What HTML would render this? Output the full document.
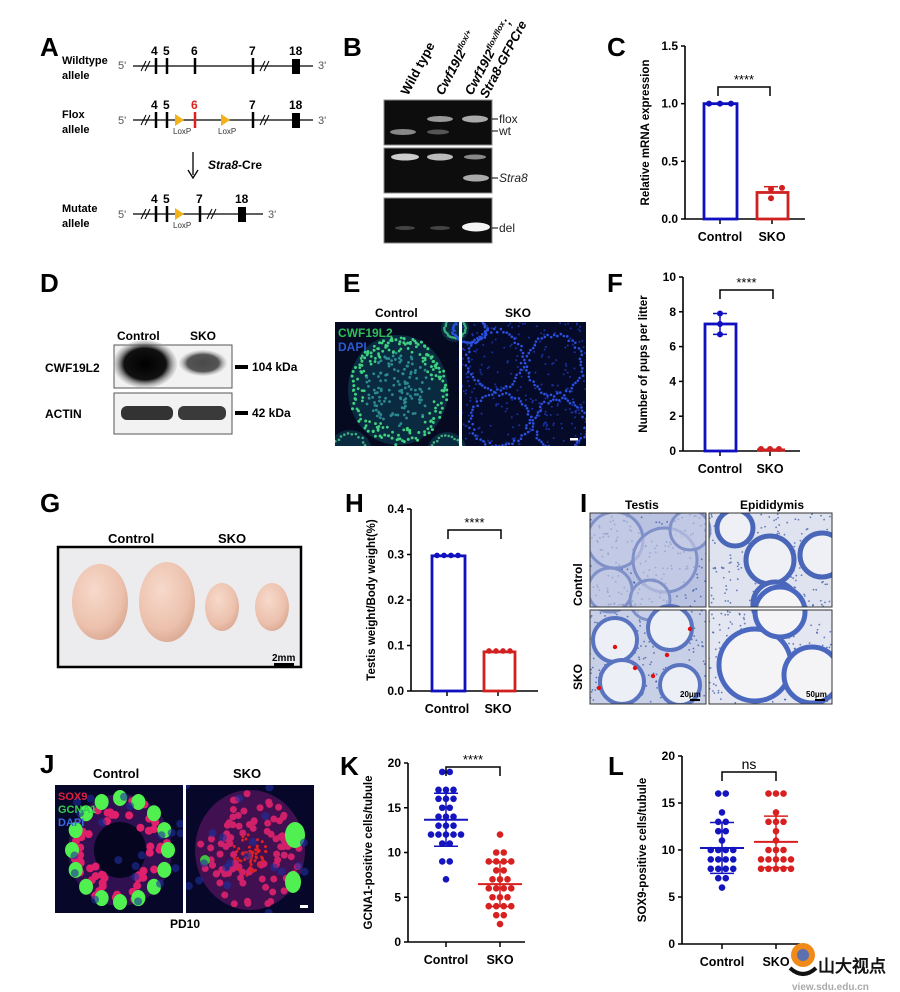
<!DOCTYPE html>
<html><head><meta charset="utf-8"><style>
body{margin:0;background:#fff}
svg{display:block}
text{font-family:"Liberation Sans",Arial,sans-serif}
.L{font-size:26px;font-weight:bold}
.b{font-weight:bold}
</style></head><body>
<svg id="s" width="900" height="992" viewBox="0 0 900 992" xmlns="http://www.w3.org/2000/svg">
<defs>
<radialGradient id="egg" cx="40%" cy="35%" r="70%"><stop offset="0" stop-color="#f7d9cb"/><stop offset="0.7" stop-color="#ecc1ad"/><stop offset="1" stop-color="#d9a891"/></radialGradient>
<radialGradient id="wb" cx="50%" cy="50%" r="55%"><stop offset="0" stop-color="#000"/><stop offset="0.6" stop-color="#111"/><stop offset="1" stop-color="#ddd" stop-opacity="0"/></radialGradient>
<clipPath id="cE"><rect x="335" y="322" width="124" height="124"/><rect x="462" y="322" width="124" height="124"/></clipPath>
<clipPath id="cI"><rect x="590" y="513" width="116" height="94"/><rect x="709" y="513" width="123" height="94"/><rect x="590" y="610" width="116" height="94"/><rect x="709" y="610" width="123" height="94"/></clipPath>
<clipPath id="cJ"><rect x="55" y="785" width="128" height="128"/><rect x="186" y="785" width="128" height="128"/></clipPath>
</defs>
<g font-size="11" fill="#000">
<!-- A -->
<text x="40" y="56" class="L">A</text>
<g class="b" font-size="11"><text x="62" y="64">Wildtype</text><text x="62" y="79">allele</text>
<text x="62" y="118">Flox</text><text x="62" y="133">allele</text>
<text x="62" y="212">Mutate</text><text x="62" y="227">allele</text></g>
<g fill="#555" font-size="11"><text x="118" y="69">5'</text><text x="318" y="69">3'</text><text x="118" y="124">5'</text><text x="318" y="124">3'</text><text x="118" y="218">5'</text><text x="268" y="218">3'</text></g>
<g stroke="#000" stroke-width="1.2">
<line x1="133" y1="66" x2="313" y2="66"/><line x1="133" y1="120" x2="313" y2="120"/><line x1="133" y1="214" x2="263" y2="214"/>
</g>
<g stroke="#000" stroke-width="2.5">
<line x1="156" y1="58" x2="156" y2="74"/><line x1="167" y1="58" x2="167" y2="74"/><line x1="195" y1="58" x2="195" y2="74"/><line x1="253" y1="58" x2="253" y2="74"/>
<line x1="156" y1="112" x2="156" y2="128"/><line x1="167" y1="112" x2="167" y2="128"/><line x1="253" y1="112" x2="253" y2="128"/>
<line x1="156" y1="206" x2="156" y2="222"/><line x1="167" y1="206" x2="167" y2="222"/><line x1="200" y1="206" x2="200" y2="222"/>
</g>
<line x1="195" y1="112" x2="195" y2="128" stroke="#e02020" stroke-width="2.5"/>
<g stroke="#000" stroke-width="1"><path d="M141 71l5-10M145 71l5-10M260 71l5-10M264 71l5-10M141 125l5-10M145 125l5-10M260 125l5-10M264 125l5-10M141 219l5-10M145 219l5-10M207 219l5-10M211 219l5-10"/></g>
<rect x="292" y="59" width="8" height="15"/><rect x="292" y="113" width="8" height="15"/><rect x="238" y="207" width="8" height="15"/>
<g class="b" font-size="12"><text x="151" y="55">4</text><text x="163" y="55">5</text><text x="191" y="55">6</text><text x="249" y="55">7</text><text x="289" y="55">18</text>
<text x="151" y="109">4</text><text x="163" y="109">5</text><text x="191" y="109" fill="#e02020">6</text><text x="249" y="109">7</text><text x="289" y="109">18</text>
<text x="151" y="203">4</text><text x="163" y="203">5</text><text x="196" y="203">7</text><text x="235" y="203">18</text></g>
<g fill="#f3b21a"><path d="M175 114l9 6-9 6z"/><path d="M221 114l9 6-9 6z"/><path d="M175 208l9 6-9 6z"/></g>
<g font-size="8" fill="#333"><text x="173" y="134">LoxP</text><text x="218" y="134">LoxP</text><text x="173" y="228">LoxP</text></g>
<line x1="193" y1="152" x2="193" y2="175" stroke="#000" stroke-width="1.3"/><path d="M188 170l5 8 5-8" fill="none" stroke="#000" stroke-width="1.3"/>
<text x="208" y="169" class="b" font-size="12"><tspan font-style="italic">Stra8</tspan>-Cre</text>
<!-- B -->
<text x="343" y="56" class="L">B</text>
<g font-family="Liberation Serif" font-weight="bold" font-size="13">
<text transform="translate(408,96) rotate(-62)">Wild type</text>
<text transform="translate(443,96) rotate(-62)" font-style="italic">Cwf19l2<tspan font-size="8" dy="-5">flox/+</tspan></text>
<text transform="translate(472,96) rotate(-62)" font-style="italic">Cwf19l2<tspan font-size="8" dy="-5">flox/flox</tspan><tspan dy="5">;</tspan></text>
<text transform="translate(487,99) rotate(-62)" font-style="italic">Stra8-GFPCre</text>
</g>
<rect x="384" y="100" width="108" height="45" fill="#0d0d0d" stroke="#888"/>
<rect x="384" y="148" width="108" height="45" fill="#0d0d0d" stroke="#888"/>
<rect x="384" y="198" width="108" height="45" fill="#0d0d0d" stroke="#888"/>
<g><ellipse cx="403" cy="132" rx="13" ry="3" fill="#888"/><ellipse cx="440" cy="119" rx="13" ry="3" fill="#999"/><ellipse cx="438" cy="132" rx="11" ry="2.5" fill="#555"/><ellipse cx="475" cy="119" rx="13" ry="3.5" fill="#aaa"/>
<ellipse cx="405" cy="157" rx="14" ry="3.5" fill="#ccc"/><ellipse cx="440" cy="157" rx="13" ry="3.5" fill="#bbb"/><ellipse cx="475" cy="157" rx="11" ry="2.5" fill="#888"/><ellipse cx="476" cy="178" rx="13" ry="3.5" fill="#aaa"/>
<ellipse cx="405" cy="228" rx="10" ry="2" fill="#444"/><ellipse cx="440" cy="228" rx="10" ry="2" fill="#444"/><ellipse cx="476" cy="227" rx="14" ry="4.5" fill="#f4f4f4"/></g>
<g stroke="#000"><line x1="492" y1="119" x2="498" y2="119"/><line x1="492" y1="131" x2="498" y2="131"/><line x1="492" y1="178" x2="498" y2="178"/><line x1="492" y1="228" x2="498" y2="228"/></g>
<g font-size="12" fill="#222"><text x="499" y="123">flox</text><text x="499" y="135">wt</text><text x="499" y="182" font-style="italic">Stra8</text><text x="499" y="232">del</text></g>
<!-- C -->
<text x="607" y="56" class="L">C</text>
<g id="C"></g>
<!-- D -->
<text x="40" y="292" class="L">D</text>
<g class="b" font-size="12"><text x="117" y="340">Control</text><text x="190" y="340">SKO</text><text x="45" y="372">CWF19L2</text><text x="45" y="418">ACTIN</text><text x="252" y="371">104 kDa</text><text x="252" y="417">42 kDa</text></g>
<rect x="114" y="345" width="118" height="43" fill="#f2f2f2" stroke="#555"/>
<rect x="114" y="393" width="118" height="41" fill="#f2f2f2" stroke="#555"/>
<ellipse cx="145" cy="364" rx="32" ry="24" fill="url(#wb)"/>
<ellipse cx="203" cy="363" rx="24" ry="13" fill="url(#wb)" opacity="0.7"/>
<rect x="121" y="406" width="52" height="14" rx="6" fill="#333"/><rect x="178" y="406" width="48" height="14" rx="6" fill="#3a3a3a"/>
<rect x="235" y="365" width="13" height="4"/><rect x="235" y="411" width="13" height="4"/>
<!-- E -->
<text x="343" y="292" class="L">E</text>
<g class="b" font-size="12"><text x="375" y="317">Control</text><text x="505" y="317">SKO</text></g>
<rect x="335" y="322" width="124" height="124" fill="#050a20"/>
<rect x="462" y="322" width="124" height="124" fill="#050a28"/>
<g id="E" clip-path="url(#cE)"></g>
<g font-size="12" class="b"><text x="338" y="337" fill="#2fbf5a">CWF19L2</text><text x="338" y="351" fill="#2a5ad0">DAPI</text></g>
<rect x="570" y="438" width="8" height="2.5" fill="#fff"/>
<!-- F -->
<text x="607" y="292" class="L">F</text>
<g id="F"></g>
<!-- G -->
<text x="40" y="512" class="L">G</text>
<g class="b" font-size="13"><text x="108" y="543">Control</text><text x="218" y="543">SKO</text></g>
<rect x="58" y="547" width="243" height="120" fill="#ececee" stroke="#000" stroke-width="2.5"/>
<ellipse cx="100" cy="602" rx="28" ry="38" fill="url(#egg)"/>
<ellipse cx="167" cy="602" rx="28" ry="40" fill="url(#egg)"/>
<ellipse cx="222" cy="607" rx="17" ry="24" fill="url(#egg)"/>
<ellipse cx="272" cy="607" rx="17" ry="24" fill="url(#egg)"/>
<text x="272" y="661" class="b" font-size="10">2mm</text><rect x="274" y="663" width="20" height="3"/>
<!-- H -->
<text x="345" y="512" class="L">H</text>
<g id="H"></g>
<!-- I -->
<text x="580" y="512" class="L">I</text>
<g class="b" font-size="12"><text x="625" y="509">Testis</text><text x="740" y="509">Epididymis</text>
<text transform="translate(582,606) rotate(-90)">Control</text><text transform="translate(582,690) rotate(-90)">SKO</text></g>
<rect x="590" y="513" width="116" height="94" fill="#b9c2e0" stroke="#333"/>
<rect x="709" y="513" width="123" height="94" fill="#dfe3f0" stroke="#333"/>
<rect x="590" y="610" width="116" height="94" fill="#c8d0e8" stroke="#333"/>
<rect x="709" y="610" width="123" height="94" fill="#e4e7f1" stroke="#333"/>
<g id="I" fill="none" clip-path="url(#cI)"></g>
<rect x="590" y="513" width="116" height="94" fill="none" stroke="#333"/><rect x="709" y="513" width="123" height="94" fill="none" stroke="#333"/>
<rect x="590" y="610" width="116" height="94" fill="none" stroke="#333"/><rect x="709" y="610" width="123" height="94" fill="none" stroke="#333"/>
<g font-size="8" class="b"><text x="680" y="697">20μm</text><text x="806" y="697">50μm</text></g>
<rect x="690" y="699" width="10" height="2"/><rect x="815" y="699" width="10" height="2"/>
<!-- J -->
<text x="40" y="773" class="L">J</text>
<g class="b" font-size="13"><text x="93" y="778">Control</text><text x="233" y="778">SKO</text><text x="170" y="928" font-size="12">PD10</text></g>
<rect x="55" y="785" width="128" height="128" fill="#07072a"/>
<rect x="186" y="785" width="128" height="128" fill="#07072a"/>
<g id="J" clip-path="url(#cJ)"></g>
<g font-size="11" class="b"><text x="58" y="800" fill="#e02040">SOX9</text><text x="58" y="813" fill="#30d050">GCNA1</text><text x="58" y="826" fill="#3a6ae0">DAPI</text></g>
<rect x="300" y="905" width="8" height="3" fill="#fff"/>
<!-- K L -->
<text x="340" y="775" class="L">K</text>
<text x="608" y="775" class="L">L</text>
<g id="K"></g><g id="LL"></g>
<!-- watermark -->
<circle cx="803" cy="955" r="12" fill="#f08a1a"/><circle cx="803" cy="955" r="6" fill="#5a70b0"/>
<path d="M790 968q13 12 26 0" stroke="#111" stroke-width="4" fill="none"/>
<text x="818" y="972" font-family="Noto Sans CJK SC,sans-serif" font-weight="bold" font-size="17" fill="#111">山大视点</text>
<text x="792" y="990" font-size="10" fill="#aaa" font-weight="bold">view.sdu.edu.cn</text>
</g>
</svg>
<script>
var NS="http://www.w3.org/2000/svg";
var seed=7;function r(){seed=(seed*16807)%2147483647;return (seed-1)/2147483646;}
function el(p,t,a,txt){var e=document.createElementNS(NS,t);for(var k in a)e.setAttribute(k,a[k]);if(txt!=null)e.textContent=txt;document.getElementById(p).appendChild(e);return e;}
function axis(g,ax,y0,y1,max,step,fmt,ylab,xs,xend){
 el(g,'line',{x1:ax,y1:y1,x2:ax,y2:y0,stroke:'#000','stroke-width':1.6});
 el(g,'line',{x1:ax,y1:y0,x2:xend,y2:y0,stroke:'#000','stroke-width':1.6});
 for(var v=0;v<=max+1e-9;v+=step){var y=y0-(y0-y1)*v/max;el(g,'line',{x1:ax-4,y1:y,x2:ax,y2:y,stroke:'#000','stroke-width':1.5});
  el(g,'text',{x:ax-7,y:y+4,'text-anchor':'end','font-size':12,'font-weight':'bold'},fmt(v));}
 var mid=(y0+y1)/2;el(g,'text',{transform:'translate('+(ax-36)+','+mid+') rotate(-90)','text-anchor':'middle','font-size':11.5,'font-weight':'bold'},ylab);
 el(g,'line',{x1:xs[0],y1:y0,x2:xs[0],y2:y0+5,stroke:'#000','stroke-width':1.5});el(g,'line',{x1:xs[1],y1:y0,x2:xs[1],y2:y0+5,stroke:'#000','stroke-width':1.5});
 el(g,'text',{x:xs[0],y:y0+22,'text-anchor':'middle','font-size':12.5,'font-weight':'bold'},'Control');
 el(g,'text',{x:xs[1],y:y0+22,'text-anchor':'middle','font-size':12.5,'font-weight':'bold'},'SKO');
}
function bracket(g,x1,x2,y,lab){el(g,'path',{d:'M'+x1+' '+(y+9)+'V'+y+'H'+x2+'V'+(y+9),fill:'none',stroke:'#000','stroke-width':1.5});el(g,'text',{x:(x1+x2)/2,y:y-3,'text-anchor':'middle','font-size':lab=='ns'?14:13},lab);}
function bar(g,x,w,y0,yt,col){el(g,'rect',{x:x,y:yt,width:w,height:y0-yt,fill:'none',stroke:col,'stroke-width':2.8});}
(function(){var y0=219,y1=46,ax=685,f=function(v){return y0-(y0-y1)*v/1.5};
axis('C',ax,y0,y1,1.5,0.5,function(v){return v.toFixed(1)},'Relative mRNA expression',[720,772],805);
bar('C',704,33,y0,f(1),'#1010c0');bar('C',757,31,y0,f(0.23),'#d02020');
[709,720,731].forEach(function(x){el('C','circle',{cx:x,cy:f(1),r:3,fill:'#1010c0'})});
el('C','circle',{cx:771,cy:f(0.18),r:3,fill:'#d02020'});el('C','circle',{cx:771,cy:f(0.26),r:3,fill:'#d02020'});el('C','circle',{cx:782,cy:f(0.27),r:3,fill:'#d02020'});
el('C','line',{x1:764,y1:f(0.28),x2:778,y2:f(0.28),stroke:'#d02020','stroke-width':1.5});
bracket('C',718,770,87,'****');})();
(function(){var y0=451,y1=277,ax=683,f=function(v){return y0-(y0-y1)*v/10};
axis('F',ax,y0,y1,10,2,function(v){return v},'Number of pups per litter',[720,770],800);
bar('F',705,31,y0,f(7.3),'#1010c0');el('F','line',{x1:757,y1:y0-1,x2:785,y2:y0-1,stroke:'#d02020','stroke-width':3});
[7.9,7.3,6.7].forEach(function(v){el('F','circle',{cx:720,cy:f(v),r:3,fill:'#1010c0'})});
el('F','path',{d:'M720 '+f(7.9)+'V'+f(6.7)+'M713 '+f(7.9)+'h14M713 '+f(6.7)+'h14',stroke:'#1010c0','stroke-width':1.5});
[761,770,779].forEach(function(x){el('F','circle',{cx:x,cy:y0-2,r:3,fill:'#d02020'})});
bracket('F',720,773,290,'****');})();
(function(){var y0=691,y1=509,ax=411,f=function(v){return y0-(y0-y1)*v/0.4};
axis('H',ax,y0,y1,0.4,0.1,function(v){return v.toFixed(1)},'Testis weight/Body weight(%)',[447,498],538);
bar('H',432,33,y0,f(0.297),'#1010c0');bar('H',484,31,y0,f(0.086),'#d02020');
[437,444,451,458].forEach(function(x){el('H','circle',{cx:x,cy:f(0.298),r:2.8,fill:'#1010c0'})});
[489,496,503,510].forEach(function(x){el('H','circle',{cx:x,cy:f(0.088),r:2.8,fill:'#d02020'})});
bracket('H',448,501,530,'****');})();
function dots(g,cx,vals,col,f){var c={};vals.forEach(function(v){c[v]=(c[v]||0)+1});
 for(var v in c){var n=c[v];for(var i=0;i<n;i++){var x=cx+(i-(n-1)/2)*7.5;el(g,'circle',{cx:x,cy:f(+v),r:3.3,fill:col});}}
 var m=vals.reduce(function(a,b){return a+b},0)/vals.length;var sd=Math.sqrt(vals.reduce(function(a,b){return a+(b-m)*(b-m)},0)/vals.length);
 el(g,'line',{x1:cx-22,y1:f(m),x2:cx+22,y2:f(m),stroke:col,'stroke-width':2});
 el(g,'path',{d:'M'+cx+' '+f(m+sd)+'V'+f(m-sd)+'M'+(cx-12)+' '+f(m+sd)+'h24M'+(cx-12)+' '+f(m-sd)+'h24',stroke:col,'stroke-width':1.5});}
(function(){var y0=942,y1=763,ax=408,f=function(v){return y0-(y0-y1)*v/20};
axis('K',ax,y0,y1,20,5,function(v){return v},'GCNA1-positive cells/tubule',[446,500],525);
dots('K',446,[19,19,17,17,17,16,16,16,15,15,14,14,14,13,13,13,12,12,12,12,12,11,11,9,9,7],'#1515c0',f);
dots('K',500,[12,10,10,9,9,9,9,8,8,7,7,7,6,6,6,6,5,5,5,4,4,4,4,3,3,2],'#d82020',f);
bracket('K',446,500,767,'****');})();
(function(){var y0=944,y1=756,ax=682,f=function(v){return y0-(y0-y1)*v/20};
axis('LL',ax,y0,y1,20,5,function(v){return v},'SOX9-positive cells/tubule',[722,776],800);
dots('LL',722,[16,16,14,13,13,12,12,11,10,10,10,10,9,9,9,9,8,8,8,8,7,7,6],'#1515c0',f);
dots('LL',776,[16,16,16,14,13,13,13,12,11,10,10,10,9,9,9,9,9,8,8,8,8,8],'#d82020',f);
bracket('LL',722,776,772,'ns');})();
// E
(function(){function R(a){return a*r()}
 function ring(g,cx,cy,rx,ry,n,col,rad){for(var i=0;i<n;i++){var t=i/n*6.283,k=0.85+0.15*r();el(g,'circle',{cx:cx+Math.cos(t)*rx*k,cy:cy+Math.sin(t)*ry*k,r:rad,fill:col})}}
 el('E','ellipse',{cx:398,cy:390,rx:50,ry:55,fill:'#0a2a40'});
 for(var i=0;i<260;i++){var t=R(6.283),k=Math.sqrt(r());el('E','circle',{cx:398+Math.cos(t)*48*k,cy:390+Math.sin(t)*53*k,r:1.4,fill:k>0.7?'#3fd080':'#2a8a90'})}
 [[350,452,22],[447,452,20],[455,328,14]].forEach(function(c){el('E','circle',{cx:c[0],cy:c[1],r:c[2],fill:'#0a2a40'});ring('E',c[0],c[1],c[2]-3,c[2]-3,30,'#3fb080',1.3)});
 for(var i=0;i<250;i++){el('E','circle',{cx:462+R(124),cy:322+R(124),r:1,fill:'#1a30a0'})}
 [[495,360,30,32],[555,365,30,32],[500,420,32,28],[560,425,28,28],[470,330,18,14]].forEach(function(c){ring('E',c[0],c[1],c[2],c[3],55,'#2a50e0',1.3)});
 ring('E',398,390,50,55,70,'#3fd080',1.5);
})();
// I
(function(){
 for(var i=0;i<900;i++){var x=590+r()*242,y=513+r()*191;el('I','circle',{cx:x,cy:y,r:0.9,fill:'#3050a0',opacity:0.7})}
 [[615,540,28],[665,560,32],[610,590,22],[690,530,20],[650,600,20]].forEach(function(c){el('I','circle',{cx:c[0],cy:c[1],r:c[2],stroke:'#8090c8','stroke-width':3,fill:'#c6cde6','fill-opacity':0.6})});
 [[770,560,24],[775,604,22],[735,528,18],[822,555,22]].forEach(function(c){el('I','circle',{cx:c[0],cy:c[1],r:c[2],stroke:'#4a66b8','stroke-width':5,fill:'#eef0f6'})});
 [[615,640,22],[670,628,22],[622,682,22],[680,685,20]].forEach(function(c){el('I','circle',{cx:c[0],cy:c[1],r:c[2],stroke:'#5a74c0','stroke-width':4,fill:'#eceff6'})});
 [[755,665,36],[812,675,28],[780,612,25]].forEach(function(c){el('I','circle',{cx:c[0],cy:c[1],r:c[2],stroke:'#4a68c0','stroke-width':5,fill:'#f4f4f6'})});
 [[615,647],[667,655],[635,668],[690,629],[653,676],[599,688]].forEach(function(c){el('I','circle',{cx:c[0],cy:c[1],r:2.2,fill:'#e01010'})});
})();
// J
(function(){
 el('J','ellipse',{cx:120,cy:850,rx:52,ry:56,fill:'#301050'});el('J','ellipse',{cx:120,cy:850,rx:26,ry:28,fill:'#050520'});
 el('J','ellipse',{cx:250,cy:850,rx:55,ry:60,fill:'#401050'});
 for(var i=0;i<60;i++){var t=r()*6.283,k=0.55+0.4*r();el('J','circle',{cx:120+Math.cos(t)*52*k,cy:850+Math.sin(t)*56*k,r:4,fill:'#e0206a'})}
 for(var i=0;i<90;i++){var t=r()*6.283,k=0.3+0.65*r();el('J','circle',{cx:250+Math.cos(t)*55*k,cy:850+Math.sin(t)*60*k,r:3.5,fill:'#d0206a'})}
 for(var i=0;i<60;i++){var t=r()*6.283,k=r()*0.35;el('J','circle',{cx:250+Math.cos(t)*55*k,cy:855+Math.sin(t)*60*k,r:1.5,fill:'#e02020'})}
 for(var i=0;i<16;i++){var t=i/16*6.283;el('J','ellipse',{cx:120+Math.cos(t)*48,cy:850+Math.sin(t)*52,rx:7,ry:8,fill:'#50f050'})}
 el('J','ellipse',{cx:295,cy:835,rx:10,ry:13,fill:'#50f050'});el('J','ellipse',{cx:293,cy:882,rx:8,ry:11,fill:'#50f050'});el('J','circle',{cx:205,cy:860,r:5,fill:'#40c040'});
 for(var i=0;i<40;i++){el('J','circle',{cx:55+r()*259,cy:785+r()*128,r:4,fill:'#2030a0',opacity:0.6})}
})();
</script>
</body></html>
